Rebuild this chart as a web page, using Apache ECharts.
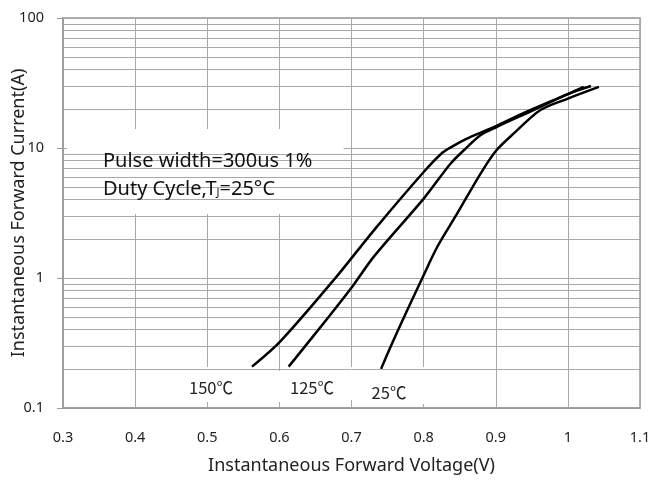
<!DOCTYPE html>
<html><head><meta charset="utf-8">
<script src="https://cdn.jsdelivr.net/npm/echarts@6/dist/echarts.min.js"></script>
<style>html,body{margin:0;padding:0;background:#fff}#c{width:650px;height:480px}</style>
</head><body><div id="c"></div>
<script>
// Forward voltage (V) / current (A) per junction temperature
const v150 = [0.562, 0.601, 0.6754, 0.7333, 0.8004, 0.826, 0.84, 0.86, 0.88, 0.901, 0.939, 1.0, 1.022];
const i150 = [0.208, 0.324, 0.965, 2.41, 6.57, 9.2, 10.3, 11.8, 13.2, 14.8, 18.6, 26, 29.5];
const v125 = [0.6129, 0.6685, 0.701, 0.731, 0.8004, 0.8375, 0.8607, 0.8792, 0.901, 0.95, 1.0, 1.032];
const i125 = [0.208, 0.504, 0.857, 1.46, 4.1, 7.6, 10.2, 12.6, 14.5, 19.3, 26, 30];
const v25 = [0.741, 0.7542, 0.7774, 0.7982, 0.819, 0.8468, 0.8792, 0.901, 0.9254, 0.962, 1.0, 1.043];
const i25 = [0.2, 0.296, 0.567, 1.0, 1.74, 3.15, 6.39, 9.6, 13, 19.6, 24, 29.5];
const minorY = [0.2,0.3,0.4,0.5,0.6,0.7,0.8,0.9, 2,3,4,5,6,7,8,9, 20,30,40,50,60,70,80,90];
const curveNames = ['150℃', '125℃', '25℃'];

const pair = (xs, ys) => xs.map((x, k) => [x, ys[k]]);
const GRID = '#a8a8a8';
const FONT = 'Noto Sans';
const chart = echarts.init(document.getElementById('c'));

// white masks (annotation backgrounds), in axis units
const masks = [
  [{xAxis:0.3056, yAxis:14.0}, {xAxis:0.689, yAxis:3.1}],
  [{xAxis:0.4556, yAxis:0.2067}, {xAxis:0.5597, yAxis:0.1112}],
  [{xAxis:0.5597, yAxis:0.1926}, {xAxis:0.6153, yAxis:0.1112}],
  [{xAxis:0.6153, yAxis:0.2067}, {xAxis:0.7167, yAxis:0.1152}],
  [{xAxis:0.7167, yAxis:0.1926}, {xAxis:0.7472, yAxis:0.1074}],
  [{xAxis:0.7472, yAxis:0.2067}, {xAxis:0.8028, yAxis:0.1074}]
];

const curve = (name, xs, ys) => ({
  name, type:'line', data: pair(xs, ys), showSymbol:false, smooth:0.3, z:5,
  lineStyle:{color:'#000', width:2.5}, itemStyle:{color:'#000'}
});

chart.setOption({
  animation:false,
  backgroundColor:'#fff',
  grid:{left:63, right:10, top:18, bottom:72, outerBoundsMode:'none', containLabel:false,
        show:true, borderColor:'#999', borderWidth:1.5},
  xAxis:{
    type:'value', min:0.3, max:1.1, interval:0.1,
    axisLine:{show:true, lineStyle:{color:'#999', width:1.5}},
    axisTick:{show:false},
    splitLine:{show:true, lineStyle:{color:GRID, width:1}},
    axisLabel:{margin:22, fontSize:14.5, color:'#222', fontFamily:FONT},
    name:'Instantaneous Forward Voltage(V)', nameLocation:'middle', nameGap:49, nameMoveOverlap:false,
    nameTextStyle:{fontSize:18, color:'#222', fontFamily:FONT}
  },
  yAxis:{
    type:'log', logBase:10, min:0.1, max:100,
    axisLine:{show:true, lineStyle:{color:'#999', width:1.5}},
    axisTick:{show:true, length:6, lineStyle:{color:'#999'}},
    splitLine:{show:true, lineStyle:{color:GRID, width:1}},
    axisLabel:{margin:19, fontSize:14.5, color:'#222', fontFamily:FONT},
    name:'Instantaneous Forward Current(A)', nameLocation:'middle', nameGap:35, nameMoveOverlap:false,
    nameTextStyle:{fontSize:18, color:'#222', fontFamily:FONT}
  },
  series:[
    {type:'line', data:[], z:1, silent:true,
     markLine:{silent:true, symbol:['none','none'], label:{show:false},
       lineStyle:{color:GRID, width:1, type:'solid'},
       data: minorY.map(v => ({yAxis:v}))}},
    {type:'line', data:[], z:2, silent:true,
     markArea:{silent:true, itemStyle:{color:'#fff', opacity:1}, data: masks}},
    curve(curveNames[0], v150, i150),
    curve(curveNames[1], v125, i125),
    curve(curveNames[2], v25, i25)
  ],
  graphic:[
    {type:'text', x:103, y:161, z:100, style:{text:'Pulse width=300us 1%', fontSize:20, fontFamily:FONT, fill:'#111', verticalAlign:'middle'}},
    {type:'text', x:103, y:189, z:100, style:{text:'Duty Cycle,T{s|J}=25°C', fontSize:20, fontFamily:FONT, fill:'#111', verticalAlign:'middle',
      rich:{s:{fontSize:11, fontFamily:FONT, fill:'#111', padding:[8,0,0,0]}}}},
    {type:'text', x:211, y:388, z:100, style:{text:curveNames[0], fontSize:16.5, fontFamily:'Noto Sans CJK SC', fill:'#222', align:'center', verticalAlign:'middle'}},
    {type:'text', x:312, y:388, z:100, style:{text:curveNames[1], fontSize:16.5, fontFamily:'Noto Sans CJK SC', fill:'#222', align:'center', verticalAlign:'middle'}},
    {type:'text', x:389, y:393, z:100, style:{text:curveNames[2], fontSize:16.5, fontFamily:'Noto Sans CJK SC', fill:'#222', align:'center', verticalAlign:'middle'}}
  ]
});
</script></body></html>
